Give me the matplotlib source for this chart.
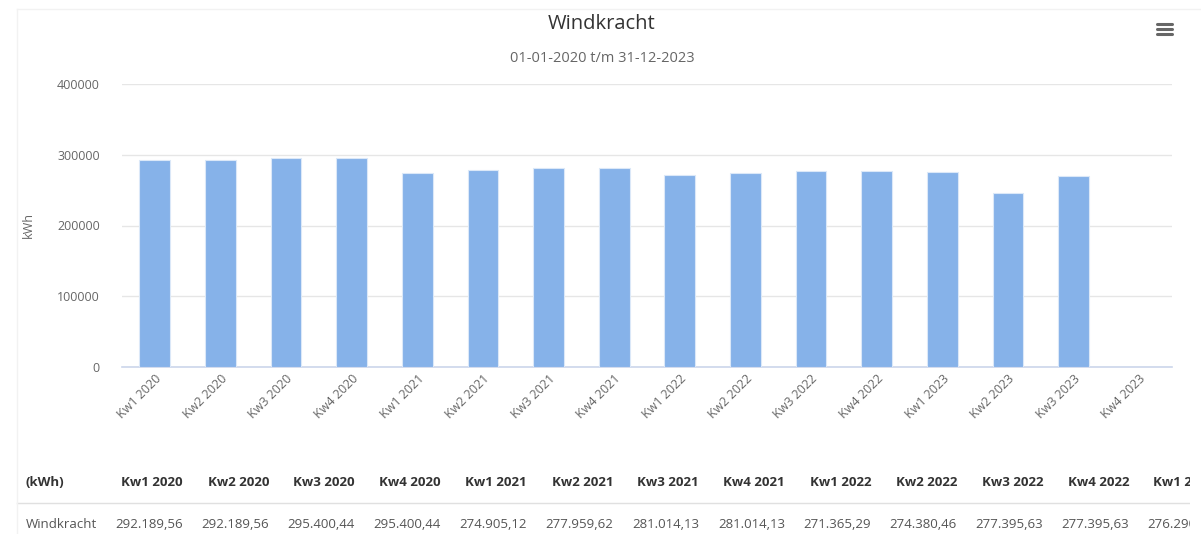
import numpy as np
import matplotlib
matplotlib.use("Agg")
import matplotlib.pyplot as plt
from matplotlib.lines import Line2D

plt.rcParams['font.family'] = ['Open Sans', 'DejaVu Sans']

# data
categories = ['Kw1 2020', 'Kw2 2020', 'Kw3 2020', 'Kw4 2020',
              'Kw1 2021', 'Kw2 2021', 'Kw3 2021', 'Kw4 2021',
              'Kw1 2022', 'Kw2 2022', 'Kw3 2022', 'Kw4 2022',
              'Kw1 2023', 'Kw2 2023', 'Kw3 2023', 'Kw4 2023']
windkracht = [292189.56, 292189.56, 295400.44, 295400.44,
              274905.12, 277959.62, 281014.13, 281014.13,
              271365.29, 274380.46, 277395.63, 277395.63,
              276290.00, 246400.00, 270000.00, np.nan]
yticks = [0, 100000, 200000, 300000, 400000]

W, H = 1201, 534
fig = plt.figure(figsize=(W / 100, H / 100), dpi=100)

# chart area
ax = fig.add_axes([122 / W, 1 - 367 / H, (1172 - 122) / W, (367 - 84) / H])
x = np.arange(len(categories))
ax.bar(x, windkracht, width=0.47, color='#86b2e9', edgecolor='#dbe8f8', linewidth=0.8, zorder=3)
ax.set_xlim(-0.5, len(categories) - 0.5)
ax.set_ylim(0, 400000)
ax.set_yticks(yticks)
ax.set_yticklabels([str(v) for v in yticks])
ax.grid(axis='y', color='#e6e6e6', linewidth=1, zorder=0)
for s in ['top', 'right', 'left']:
    ax.spines[s].set_visible(False)
ax.spines['bottom'].set_color('#ccd6eb')
ax.spines['bottom'].set_linewidth(1.2)
ax.tick_params(axis='y', length=0, pad=16, labelsize=9, labelcolor='#666666')
ax.tick_params(axis='x', length=0, pad=4, labelsize=9, labelcolor='#666666')
ax.set_xticks(x)
ax.set_xticklabels(categories, rotation=45, ha='right', rotation_mode='anchor')
ax.set_ylabel('kWh', fontsize=9, color='#666666')
ax.yaxis.set_label_coords(-0.083, 0.5)

# titles
fig.text(602 / W, 1 - 24 / H, 'Windkracht', ha='center', va='center', fontsize=14.5, color='#333333')
fig.text(602 / W, 1 - 58 / H, '01-01-2020 t/m 31-12-2023', ha='center', va='center',
         fontsize=10.5, color='#666666')

# menu icon
for yy in [24, 29, 34]:
    fig.add_artist(Line2D([1157 / W, 1172 / W], [1 - yy / H, 1 - yy / H],
                          color='#666666', linewidth=2.2, solid_capstyle='round'))

# container border
fig.add_artist(Line2D([17 / W, 1201 / W], [1 - 9 / H, 1 - 9 / H], color='#f2f2f2', linewidth=1))
fig.add_artist(Line2D([17 / W, 17 / W], [1 - 9 / H, 0], color='#f2f2f2', linewidth=1))

# data table below the chart
tab = fig.add_axes([0, 0, 1190 / W, 80 / H])
tab.set_xlim(0, 1190)
tab.set_ylim(534, 454)
tab.axis('off')
tab.text(26, 483, '(kWh)', ha='left', va='center', fontsize=9.5, fontweight='bold', color='#333333')
tab.text(26, 525, 'Windkracht', ha='left', va='center', fontsize=9.5, color='#555555')
tab.plot([17, 1190], [503, 503], color='#e0e0e0', linewidth=1)
for i, (cat, val) in enumerate(zip(categories, windkracht)):
    if np.isnan(val):
        continue
    right = 183 + 86 * i
    s = f'{val:,.2f}'.replace(',', ' ').replace('.', ',').replace(' ', '.')
    tab.text(right, 483, cat, ha='right', va='center', fontsize=9.5, fontweight='bold',
             color='#333333', clip_on=True)
    tab.text(right, 525, s, ha='right', va='center', fontsize=9.5, color='#555555', clip_on=True)

fig.savefig('out.png', dpi=100, facecolor='white')
